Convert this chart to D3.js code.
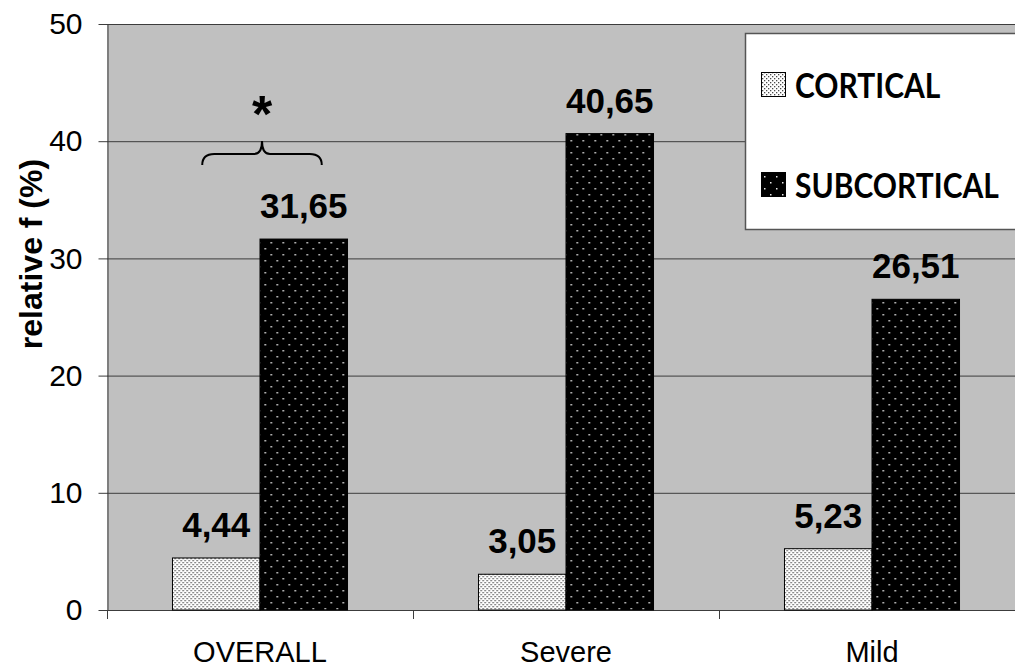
<!DOCTYPE html>
<html>
<head>
<meta charset="utf-8">
<script src="https://cdn.jsdelivr.net/npm/d3@7"></script>
<style>
  html, body { margin: 0; padding: 0; background: #ffffff; }
  svg { display: block; }
</style>
</head>
<body>
<svg id="chart" width="1015" height="668"></svg>
<script>
// Relative frequency by group, cortical vs subcortical
const categories = ["OVERALL", "Severe", "Mild"];
const seriesNames = ["CORTICAL", "SUBCORTICAL"];
const cortical = [4.44, 3.05, 5.23];
const subcortical = [31.65, 40.65, 26.51];
const yTicks = [0, 10, 20, 30, 40, 50];
const yTitle = "relative f (%)";
const fmt = v => v.toFixed(2).replace(".", ",");

const svg = d3.select("#chart");
const plot = { left: 107, right: 1025, top: 24, bottom: 610 };

const defs = svg.append("defs");
// light fill: fine grey dots on white
const pc = defs.append("pattern").attr("id", "patCortical")
  .attr("patternUnits", "userSpaceOnUse").attr("width", 4).attr("height", 4);
pc.append("rect").attr("width", 4).attr("height", 4).attr("fill", "#ffffff");
pc.append("rect").attr("x", 0).attr("y", 0).attr("width", 1.3).attr("height", 1.3).attr("fill", "#4a4a4a");
pc.append("rect").attr("x", 2).attr("y", 2).attr("width", 1.3).attr("height", 1.3).attr("fill", "#4a4a4a");
// dark fill: sparse white dots on black
const ps = defs.append("pattern").attr("id", "patSub")
  .attr("patternUnits", "userSpaceOnUse").attr("width", 12).attr("height", 12);
ps.append("rect").attr("width", 12).attr("height", 12).attr("fill", "#000000");
ps.append("rect").attr("x", 2).attr("y", 2).attr("width", 1.5).attr("height", 1.5).attr("fill", "#e8e8e8");
ps.append("rect").attr("x", 8).attr("y", 8).attr("width", 1.5).attr("height", 1.5).attr("fill", "#e8e8e8");

const fills = ["url(#patCortical)", "url(#patSub)"];

const y = d3.scaleLinear().domain([0, 50]).range([plot.bottom, plot.top]);
const x0 = d3.scaleBand().domain(categories).range([plot.left, plot.right])
  .paddingInner(0.428).paddingOuter(0.214);
const x1 = d3.scaleBand().domain(seriesNames).range([0, x0.bandwidth()]);

// plot background
svg.append("rect")
  .attr("x", plot.left).attr("y", plot.top)
  .attr("width", plot.right - plot.left).attr("height", plot.bottom - plot.top)
  .attr("fill", "#c0c0c0");

// horizontal gridlines
svg.append("g").selectAll("line").data(yTicks.filter(t => t > 0)).join("line")
  .attr("x1", plot.left).attr("x2", plot.right)
  .attr("y1", d => y(d) + 0.5).attr("y2", d => y(d) + 0.5)
  .attr("stroke", "#3c3c3c").attr("stroke-width", 1);

// y axis
const yAxis = svg.append("g")
  .attr("transform", `translate(${plot.left + 0.5},0)`)
  .call(d3.axisLeft(y).tickValues(yTicks).tickSize(9).tickPadding(16).tickSizeOuter(0));
yAxis.select(".domain").attr("stroke", "#3c3c3c");
yAxis.selectAll(".tick line").attr("stroke", "#3c3c3c");
yAxis.selectAll(".tick text")
  .attr("font-family", "Liberation Sans, Arial, sans-serif")
  .attr("font-size", 30).attr("fill", "#000");
yAxis.selectAll(".tick").attr("transform", d => `translate(0,${y(d) + 0.5})`);

// x axis: boundaries between categories
const step = x0.step();
const bounds = d3.range(categories.length + 1).map(i => plot.left + i * step);
svg.append("line")
  .attr("x1", plot.left).attr("x2", plot.right)
  .attr("y1", plot.bottom + 0.5).attr("y2", plot.bottom + 0.5)
  .attr("stroke", "#3c3c3c");
svg.append("g").selectAll("line").data(bounds).join("line")
  .attr("x1", d => d + 0.5).attr("x2", d => d + 0.5)
  .attr("y1", plot.bottom).attr("y2", plot.bottom + 9)
  .attr("stroke", "#3c3c3c");
svg.append("g").selectAll("text").data(categories).join("text")
  .attr("x", d => x0(d) + x0.bandwidth() / 2)
  .attr("y", 662)
  .attr("text-anchor", "middle")
  .attr("font-family", "Liberation Sans, Arial, sans-serif")
  .attr("font-size", 29)
  .text(d => d);

// bars
const rows = categories.map((c, i) => ({ cat: c, vals: [cortical[i], subcortical[i]] }));
const groups = svg.append("g").selectAll("g").data(rows).join("g")
  .attr("transform", d => `translate(${x0(d.cat)},0)`);
groups.selectAll("rect").data(d => d.vals.map((v, j) => ({ v, j }))).join("rect")
  .attr("x", d => x1(seriesNames[d.j]))
  .attr("y", d => y(d.v))
  .attr("width", x1.bandwidth())
  .attr("height", d => y(0) - y(d.v))
  .attr("fill", d => fills[d.j])
  .attr("stroke", "#000").attr("stroke-width", 1);
groups.selectAll("text").data(d => d.vals.map((v, j) => ({ v, j }))).join("text")
  .attr("x", d => x1(seriesNames[d.j]) + x1.bandwidth() / 2)
  .attr("y", d => y(d.v) - 21)
  .attr("text-anchor", "middle")
  .attr("font-family", "Liberation Sans, Arial, sans-serif")
  .attr("font-weight", "bold")
  .attr("font-size", 35)
  .text(d => fmt(d.v));

// significance brace over the OVERALL pair
const bx0 = x0("OVERALL") + x1("CORTICAL") + x1.bandwidth() / 2 - 14;
const bx1 = x0("OVERALL") + x1("SUBCORTICAL") + x1.bandwidth() / 2 + 18;
const bm = (bx0 + bx1) / 2;
const yb = 154, yTip = 141, yEnd = 165;
svg.append("path")
  .attr("d", `M${bx0},${yEnd} Q${bx0},${yb} ${bx0 + 12},${yb} L${bm - 8},${yb} Q${bm},${yb} ${bm},${yTip}` +
             ` Q${bm},${yb} ${bm + 8},${yb} L${bx1 - 12},${yb} Q${bx1},${yb} ${bx1},${yEnd}`)
  .attr("fill", "none").attr("stroke", "#000").attr("stroke-width", 2);
svg.append("text")
  .attr("x", bm).attr("y", 132)
  .attr("text-anchor", "middle")
  .attr("font-family", "Liberation Sans, Arial, sans-serif")
  .attr("font-weight", "bold")
  .attr("font-size", 52)
  .text("*");

// y axis title
svg.append("text")
  .attr("transform", "translate(42,254) rotate(-90)")
  .attr("text-anchor", "middle")
  .attr("font-family", "Liberation Sans, Arial, sans-serif")
  .attr("font-weight", "bold")
  .attr("font-size", 32)
  .text(yTitle);

// legend
const lg = svg.append("g");
lg.append("rect")
  .attr("x", 745.5).attr("y", 33.5).attr("width", 300).attr("height", 196)
  .attr("fill", "#ffffff").attr("stroke", "#555").attr("stroke-width", 1.5);
const legendRows = [
  { name: seriesNames[0], fill: fills[0], y: 72 },
  { name: seriesNames[1], fill: fills[1], y: 172 }
];
legendRows.forEach(r => {
  lg.append("rect").attr("x", 761.5).attr("y", r.y + 0.5).attr("width", 24).attr("height", 24)
    .attr("fill", r.fill).attr("stroke", "#000").attr("stroke-width", 1);
  lg.append("text")
    .attr("transform", `translate(795,${r.y + 26}) scale(1,1.15)`)
    .attr("font-family", "Lato, Open Sans, sans-serif")
    .attr("font-weight", "bold")
    .attr("font-size", 30)
    .text(r.name);
});
</script>
</body>
</html>
